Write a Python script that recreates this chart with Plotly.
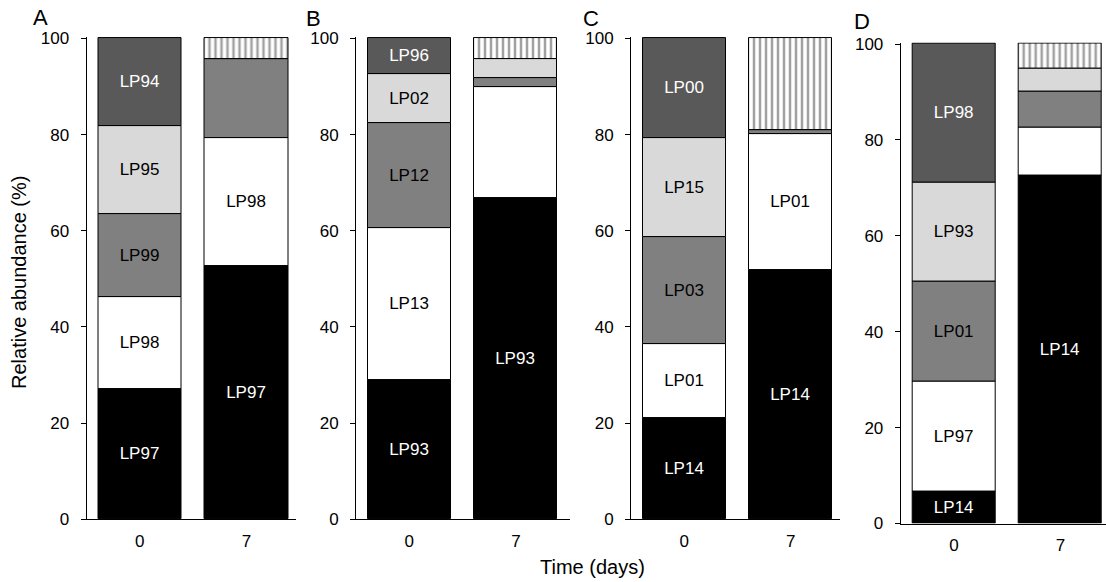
import plotly.graph_objects as go

# Relative abundance (%) of isolates at day 0 and day 7, per experiment (A-D).
# Each bar is a stack of five layers, bottom to top:
#   1 black, 2 white, 3 mid grey, 4 light grey,
#   5 dark grey on day 0 / other strains (hatched) on day 7
days = ["0", "7"]

A_day0 = [27.0, 19.2, 17.3, 18.2, 18.3]
A_day7 = [52.7, 26.5, 16.5, 0.0, 4.3]
A_labels0 = ["LP97", "LP98", "LP99", "LP95", "LP94"]
A_labels7 = ["LP97", "LP98", "", "", ""]

B_day0 = [29.0, 31.6, 21.8, 10.2, 7.4]
B_day7 = [66.8, 23.2, 1.7, 4.0, 4.3]
B_labels0 = ["LP93", "LP13", "LP12", "LP02", "LP96"]
B_labels7 = ["LP93", "", "", "", ""]

C_day0 = [21.1, 15.4, 22.3, 20.4, 20.8]
C_day7 = [51.8, 28.3, 0.9, 0.0, 19.0]
C_labels0 = ["LP14", "LP01", "LP03", "LP15", "LP00"]
C_labels7 = ["LP14", "LP01", "", "", ""]

D_day0 = [6.6, 23.0, 20.8, 20.8, 28.8]
D_day7 = [72.5, 10.1, 7.45, 4.85, 5.1]
D_labels0 = ["LP14", "LP97", "LP01", "LP93", "LP98"]
D_labels7 = ["LP14", "", "", "", ""]

panel_letters = ["A", "B", "C", "D"]
y_ticks = [0, 20, 40, 60, 80, 100]

# ---- styling -------------------------------------------------------------
W, H = 1106, 582
FONT = "Liberation Sans, Arial, sans-serif"
layer_fill0 = ["#000000", "#ffffff", "#808080", "#d9d9d9", "#595959"]
layer_fill7 = ["#000000", "#ffffff", "#808080", "#d9d9d9", "#ffffff"]
layer_text0 = ["white", "black", "black", "black", "white"]
layer_text7 = ["white", "black", "black", "black", "black"]


def fx(px):
    return px / W


def fy(py):
    return 1 - py / H


# pixel frame of each panel: x-axis start/end, y of 0 and 100, x range end
frames = [
    dict(x0=86.5, x1=296.0, yb=519.3, yt=38.5, xr=1.465, letter=(40.5, 17)),
    dict(x0=356.0, x1=570.0, yb=519.3, yt=38.5, xr=1.508, letter=(313.5, 19)),
    dict(x0=631.0, x1=840.0, yb=519.3, yt=38.5, xr=1.463, letter=(590.5, 19)),
    dict(x0=900.7, x1=1106.0, yb=523.5, yt=44.0, xr=1.427, letter=(862.0, 22)),
]

panels = [
    (A_day0, A_day7, A_labels0, A_labels7),
    (B_day0, B_day7, B_labels0, B_labels7),
    (C_day0, C_day7, C_labels0, C_labels7),
    (D_day0, D_day7, D_labels0, D_labels7),
]

YTOP = 100.3  # a little headroom so the bar top outline is not clipped

fig = go.Figure()
layout_axes = {}
annotations = []

for p, ((v0, v7, l0, l7), fr) in enumerate(zip(panels, frames)):
    sfx = "" if p == 0 else str(p + 1)
    xref, yref = "x" + sfx, "y" + sfx
    base0, base7 = 0.0, 0.0
    for i in range(5):
        fig.add_trace(
            go.Bar(
                x=[0, 1],
                y=[v0[i], v7[i]],
                base=[base0, base7],
                width=0.78,
                xaxis=xref,
                yaxis=yref,
                marker=dict(
                    color=[layer_fill0[i], layer_fill7[i]],
                    line=dict(color="#000000", width=1),
                    pattern=dict(
                        shape=["", "|" if i == 4 else ""],
                        fgcolor="#000000",
                        bgcolor="#ffffff",
                        size=6,
                        solidity=0.42,
                    ),
                ),
                text=[l0[i], l7[i]],
                textposition="inside",
                insidetextanchor="middle",
                textangle=0,
                constraintext="none",
                textfont=dict(family=FONT, size=17,
                              color=[layer_text0[i], layer_text7[i]]),
                showlegend=False,
                hoverinfo="skip",
            )
        )
        base0 += v0[i]
        base7 += v7[i]

    scale = (fr["yb"] - fr["yt"]) / 100.0
    top_px = fr["yt"] - (YTOP - 100) * scale
    layout_axes["xaxis" + sfx] = dict(
        domain=[fx(fr["x0"]), fx(fr["x1"])],
        range=[-0.5, fr["xr"]],
        tickvals=[0, 1],
        ticktext=days,
        ticks="",
        showline=True,
        linecolor="#000000",
        linewidth=1,
        showgrid=False,
        zeroline=False,
        automargin=False,
        anchor=yref,
        ticklabelstandoff=6,
        tickfont=dict(family=FONT, size=17, color="#000000"),
        fixedrange=True,
    )
    layout_axes["yaxis" + sfx] = dict(
        domain=[fy(fr["yb"]), fy(top_px)],
        range=[0, YTOP],
        tickvals=y_ticks,
        ticks="outside",
        ticklen=5,
        tickwidth=1,
        tickcolor="#000000",
        showline=True,
        linecolor="#000000",
        linewidth=1,
        showgrid=False,
        zeroline=False,
        automargin=False,
        anchor=xref,
        ticklabelstandoff=8,
        tickfont=dict(family=FONT, size=17, color="#000000"),
        fixedrange=True,
    )
    lx, ly = fr["letter"]
    annotations.append(
        dict(text=panel_letters[p], x=fx(lx), y=fy(ly), xref="paper", yref="paper",
             showarrow=False, xanchor="center", yanchor="middle",
             font=dict(family=FONT, size=22, color="#000000"))
    )

annotations.append(
    dict(text="Relative abundance (%)", x=fx(19), y=fy(283), xref="paper", yref="paper",
         showarrow=False, xanchor="center", yanchor="middle", textangle=-90,
         font=dict(family=FONT, size=20, color="#000000"))
)
annotations.append(
    dict(text="Time (days)", x=fx(592), y=fy(567), xref="paper", yref="paper",
         showarrow=False, xanchor="center", yanchor="middle",
         font=dict(family=FONT, size=20, color="#000000"))
)

fig.update_layout(
    width=W,
    height=H,
    autosize=False,
    margin=dict(l=0, r=0, t=0, b=0, pad=0, autoexpand=False),
    barmode="overlay",
    bargap=0,
    showlegend=False,
    paper_bgcolor="#ffffff",
    plot_bgcolor="#ffffff",
    font=dict(family=FONT, color="#000000"),
    annotations=annotations,
    **layout_axes,
)

fig.write_html("out.html")
